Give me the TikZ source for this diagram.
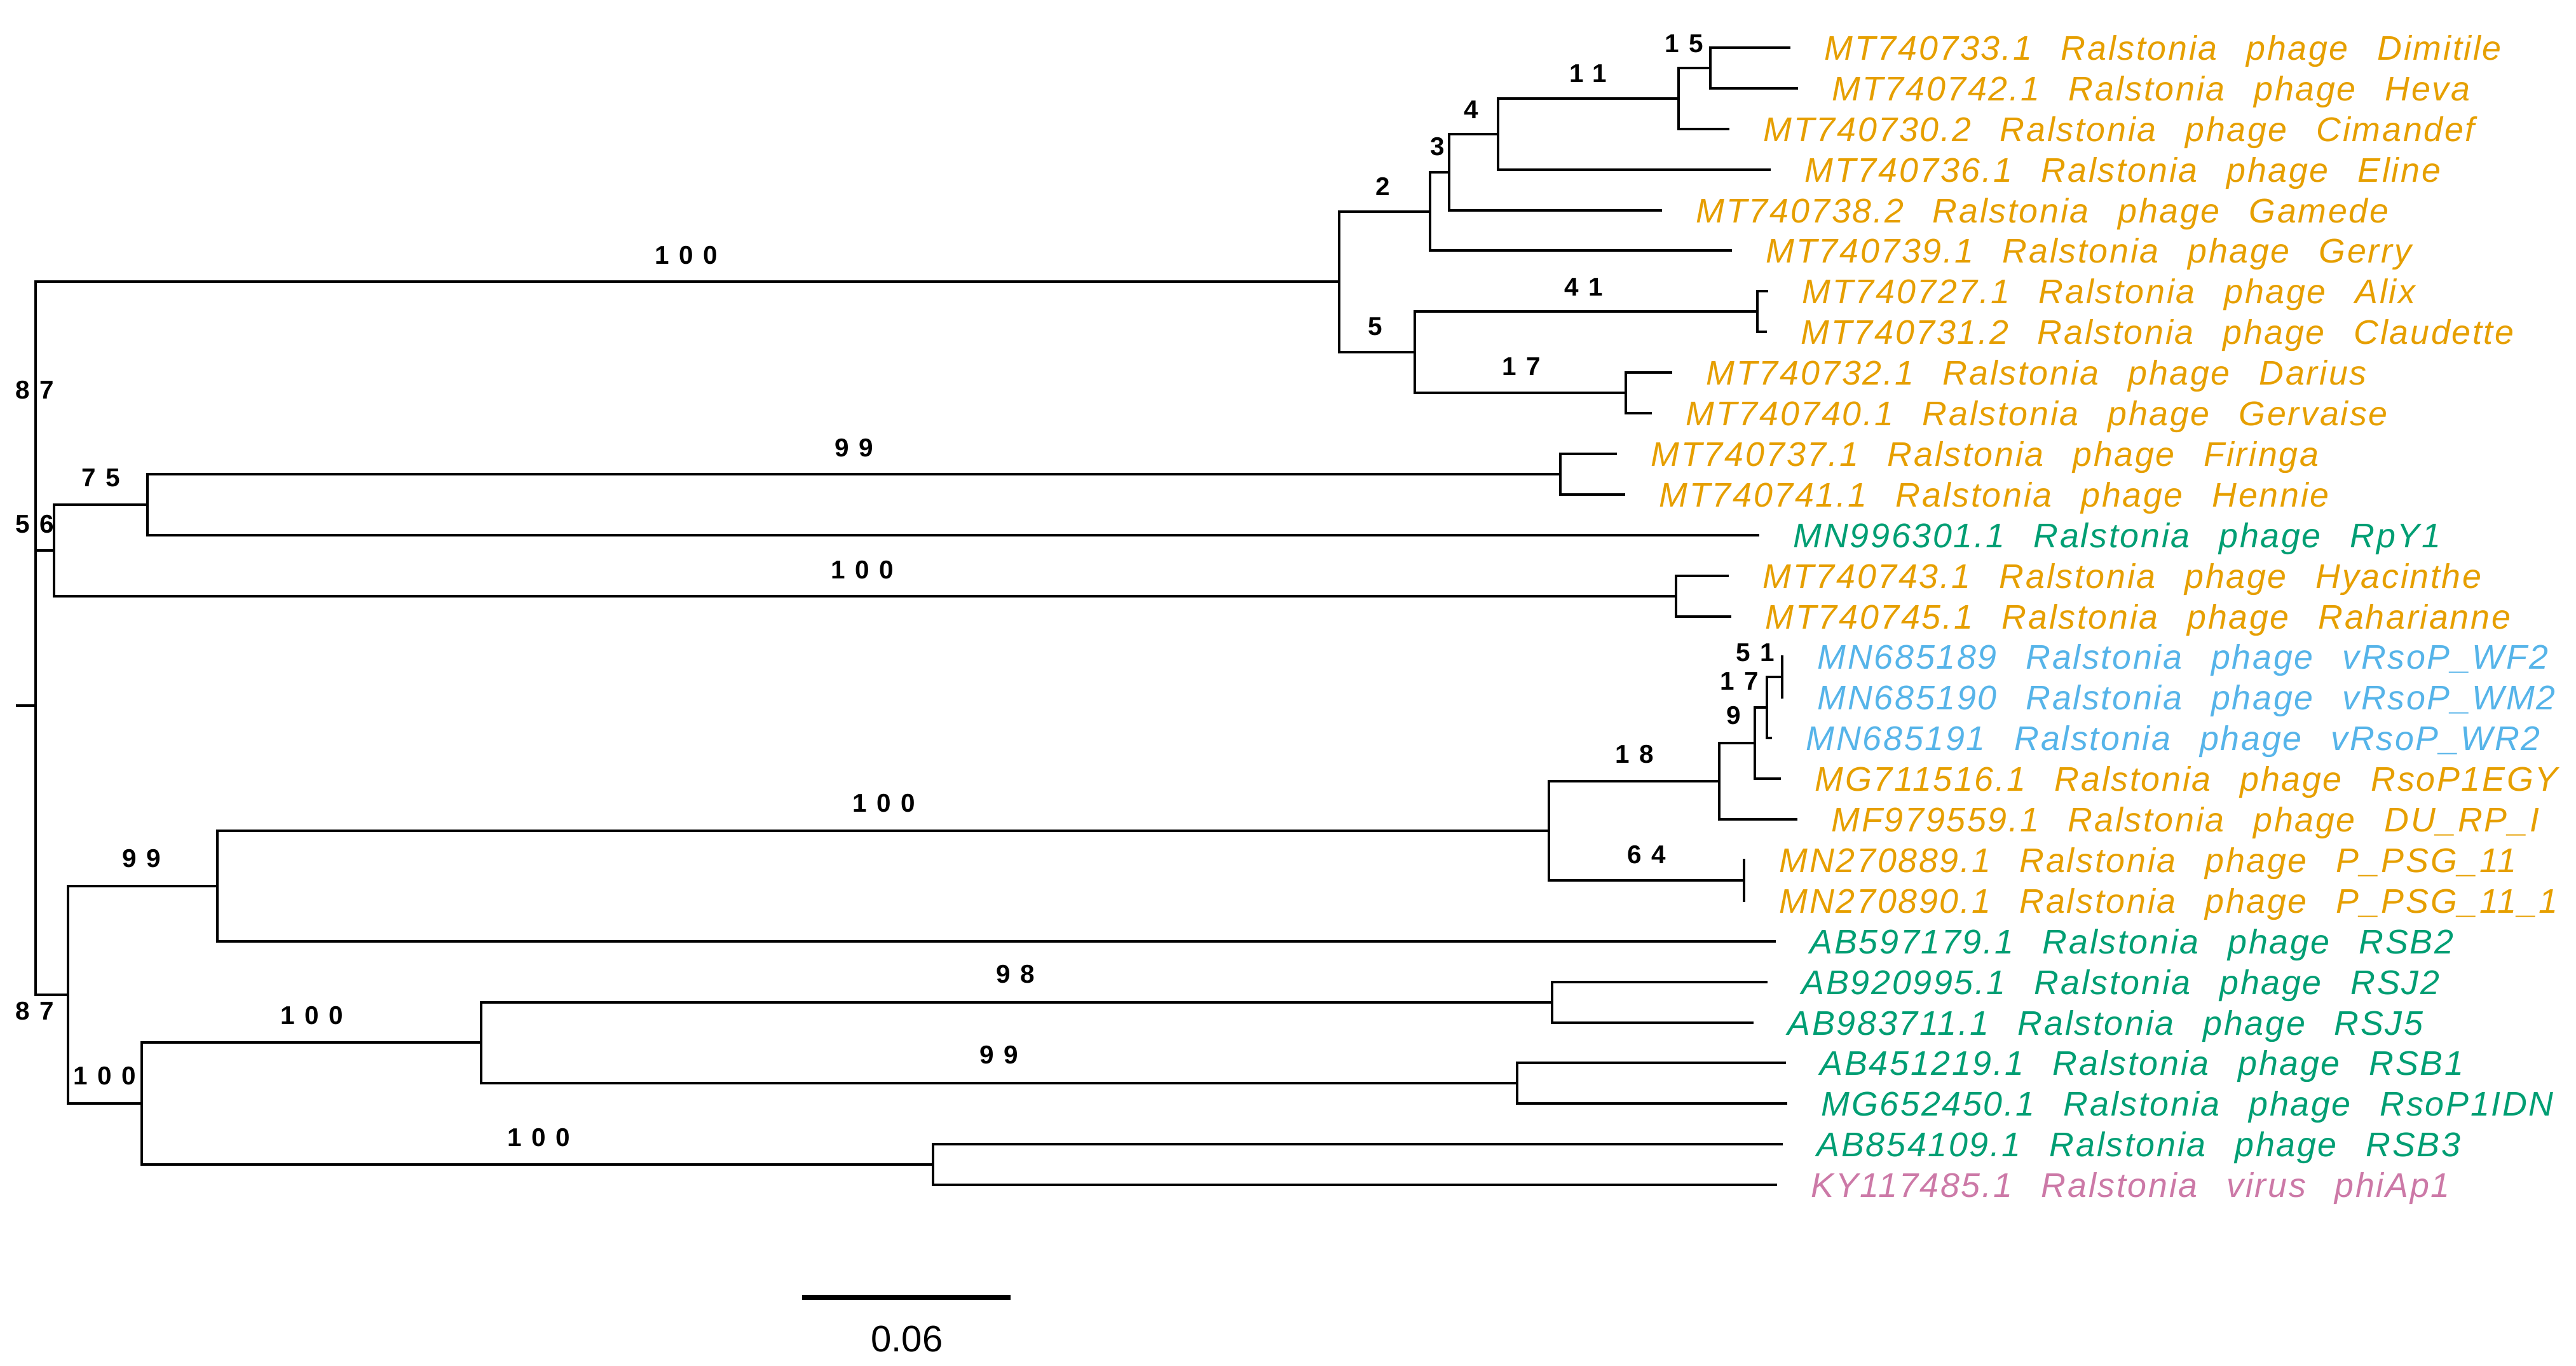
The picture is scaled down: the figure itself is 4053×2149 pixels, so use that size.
\documentclass[tikz,border=0pt]{standalone}
\usepackage{fontspec}
\setmainfont{Liberation Sans}
\newfontfamily\tipfont[LetterSpace=5,WordSpace=2.6]{Liberation Sans}
\newfontfamily\bootfont[LetterSpace=38]{Liberation Sans}
\usetikzlibrary{positioning}

\definecolor{phorange}{HTML}{E69F00}
\definecolor{phgreen}{HTML}{009E73}
\definecolor{phblue}{HTML}{56B4E9}
\definecolor{phpink}{HTML}{CC79A7}

\begin{document}
\begin{tikzpicture}[x=0.01cm, y=-0.01cm,
    branch/.style={line width=1.4pt, line cap=rect},
    tiplabel/.style={anchor=base west, inner sep=0pt, xshift=0.55cm, yshift=-0.19cm, font=\tipfont\itshape\fontsize{15.3}{18}\selectfont},
    boot/.style={inner sep=0pt, font=\bootfont\bfseries\fontsize{11.5}{13}\selectfont}]
\useasboundingbox (0,0) rectangle (4053,2149);

\coordinate (tDimitile) at (2815,75);
\coordinate (tHeva) at (2827,139);
\coordinate (tCimandef) at (2719,203);
\coordinate (tEline) at (2784,267);
\coordinate (tGamede) at (2613,331);
\coordinate (tGerry) at (2723,394);
\coordinate (tAlix) at (2780,458);
\coordinate (tClaudette) at (2778,522);
\coordinate (tDarius) at (2629,586);
\coordinate (tGervaise) at (2597,650);
\coordinate (tFiringa) at (2542,714);
\coordinate (tHennie) at (2555,778);
\coordinate (tRpY) at (2766,842);
\coordinate (tHyacinthe) at (2718,906);
\coordinate (tRaharianne) at (2722,970);
\coordinate (tWF) at (2804,1033);
\coordinate (tWM) at (2804,1097);
\coordinate (tWR) at (2786,1161);
\coordinate (tEGY) at (2800,1225);
\coordinate (tDURP) at (2826,1289);
\coordinate (tPSGa) at (2744,1353);
\coordinate (tPSGb) at (2744,1417);
\coordinate (tRSBb) at (2792,1481);
\coordinate (tRSJb) at (2779,1545);
\coordinate (tRSJe) at (2757,1609);
\coordinate (tRSBa) at (2808,1672);
\coordinate (tIDN) at (2810,1736);
\coordinate (tRSBc) at (2803,1800);
\coordinate (tphiAp) at (2794,1864);

\coordinate (nDH) at (2691,107);
\coordinate (nDHC) at (2641,155);
\coordinate (nE) at (2357,211);
\coordinate (nG) at (2280,271);
\coordinate (nGe) at (2250,333);
\coordinate (nAC) at (2765,490);
\coordinate (nDG) at (2558,618);
\coordinate (nADG) at (2226,554);
\coordinate (nTop) at (2107,443);
\coordinate (nFH) at (2455,746);
\coordinate (nFHR) at (232,794);
\coordinate (nHR) at (2637,938);
\coordinate (nMid) at (85,866);
\coordinate (nUp) at (56,654);
\coordinate (nWF) at (2804,1065);
\coordinate (nWR) at (2780,1113);
\coordinate (nEGY) at (2761,1169);
\coordinate (nDU) at (2705,1229);
\coordinate (nPSG) at (2744,1385);
\coordinate (nRso) at (2437,1307);
\coordinate (nRSBb) at (342,1394);
\coordinate (nRSJ) at (2442,1577);
\coordinate (nIDN) at (2387,1704);
\coordinate (nRSJB) at (757,1640);
\coordinate (nphi) at (1468,1832);
\coordinate (nRSB) at (223,1736);
\coordinate (nLow) at (107,1565);
\coordinate (nRoot) at (56,1110);
\coordinate (nStub) at (27,1110);

\draw[branch] (nStub) -- (nRoot);
\draw[branch] (nRoot) |- (nUp);
\draw[branch] (nRoot) |- (nLow);
\draw[branch] (nUp) |- (nTop);
\draw[branch] (nUp) |- (nMid);
\draw[branch] (nTop) |- (nGe);
\draw[branch] (nTop) |- (nADG);
\draw[branch] (nGe) |- (nG);
\draw[branch] (nGe) |- (tGerry);
\draw[branch] (nG) |- (nE);
\draw[branch] (nG) |- (tGamede);
\draw[branch] (nE) |- (nDHC);
\draw[branch] (nE) |- (tEline);
\draw[branch] (nDHC) |- (nDH);
\draw[branch] (nDHC) |- (tCimandef);
\draw[branch] (nDH) |- (tDimitile);
\draw[branch] (nDH) |- (tHeva);
\draw[branch] (nADG) |- (nAC);
\draw[branch] (nADG) |- (nDG);
\draw[branch] (nAC) |- (tAlix);
\draw[branch] (nAC) |- (tClaudette);
\draw[branch] (nDG) |- (tDarius);
\draw[branch] (nDG) |- (tGervaise);
\draw[branch] (nMid) |- (nFHR);
\draw[branch] (nMid) |- (nHR);
\draw[branch] (nFHR) |- (nFH);
\draw[branch] (nFHR) |- (tRpY);
\draw[branch] (nFH) |- (tFiringa);
\draw[branch] (nFH) |- (tHennie);
\draw[branch] (nHR) |- (tHyacinthe);
\draw[branch] (nHR) |- (tRaharianne);
\draw[branch] (nLow) |- (nRSBb);
\draw[branch] (nLow) |- (nRSB);
\draw[branch] (nRSBb) |- (nRso);
\draw[branch] (nRSBb) |- (tRSBb);
\draw[branch] (nRso) |- (nDU);
\draw[branch] (nRso) |- (nPSG);
\draw[branch] (nDU) |- (nEGY);
\draw[branch] (nDU) |- (tDURP);
\draw[branch] (nEGY) |- (nWR);
\draw[branch] (nEGY) |- (tEGY);
\draw[branch] (nWR) |- (nWF);
\draw[branch] (nWR) |- (tWR);
\draw[branch] (nWF) |- (tWF);
\draw[branch] (nWF) |- (tWM);
\draw[branch] (nPSG) |- (tPSGa);
\draw[branch] (nPSG) |- (tPSGb);
\draw[branch] (nRSB) |- (nRSJB);
\draw[branch] (nRSB) |- (nphi);
\draw[branch] (nRSJB) |- (nRSJ);
\draw[branch] (nRSJB) |- (nIDN);
\draw[branch] (nRSJ) |- (tRSJb);
\draw[branch] (nRSJ) |- (tRSJe);
\draw[branch] (nIDN) |- (tRSBa);
\draw[branch] (nIDN) |- (tIDN);
\draw[branch] (nphi) |- (tRSBc);
\draw[branch] (nphi) |- (tphiAp);

\node[tiplabel, text=phorange] (lDimitile) at (tDimitile) {MT740733.1 Ralstonia phage Dimitile};
\node[tiplabel, text=phorange] (lHeva) at (tHeva) {MT740742.1 Ralstonia phage Heva};
\node[tiplabel, text=phorange] (lCimandef) at (tCimandef) {MT740730.2 Ralstonia phage Cimandef};
\node[tiplabel, text=phorange] (lEline) at (tEline) {MT740736.1 Ralstonia phage Eline};
\node[tiplabel, text=phorange] (lGamede) at (tGamede) {MT740738.2 Ralstonia phage Gamede};
\node[tiplabel, text=phorange] (lGerry) at (tGerry) {MT740739.1 Ralstonia phage Gerry};
\node[tiplabel, text=phorange] (lAlix) at (tAlix) {MT740727.1 Ralstonia phage Alix};
\node[tiplabel, text=phorange] (lClaudette) at (tClaudette) {MT740731.2 Ralstonia phage Claudette};
\node[tiplabel, text=phorange] (lDarius) at (tDarius) {MT740732.1 Ralstonia phage Darius};
\node[tiplabel, text=phorange] (lGervaise) at (tGervaise) {MT740740.1 Ralstonia phage Gervaise};
\node[tiplabel, text=phorange] (lFiringa) at (tFiringa) {MT740737.1 Ralstonia phage Firinga};
\node[tiplabel, text=phorange] (lHennie) at (tHennie) {MT740741.1 Ralstonia phage Hennie};
\node[tiplabel, text=phgreen] (lRpY) at (tRpY) {MN996301.1 Ralstonia phage RpY1};
\node[tiplabel, text=phorange] (lHyacinthe) at (tHyacinthe) {MT740743.1 Ralstonia phage Hyacinthe};
\node[tiplabel, text=phorange] (lRaharianne) at (tRaharianne) {MT740745.1 Ralstonia phage Raharianne};
\node[tiplabel, text=phblue] (lWF) at (tWF) {MN685189 Ralstonia phage vRsoP\_WF2};
\node[tiplabel, text=phblue] (lWM) at (tWM) {MN685190 Ralstonia phage vRsoP\_WM2};
\node[tiplabel, text=phblue] (lWR) at (tWR) {MN685191 Ralstonia phage vRsoP\_WR2};
\node[tiplabel, text=phorange] (lEGY) at (tEGY) {MG711516.1 Ralstonia phage RsoP1EGY};
\node[tiplabel, text=phorange] (lDURP) at (tDURP) {MF979559.1 Ralstonia phage DU\_RP\_I};
\node[tiplabel, text=phorange] (lPSGa) at (tPSGa) {MN270889.1 Ralstonia phage P\_PSG\_11};
\node[tiplabel, text=phorange] (lPSGb) at (tPSGb) {MN270890.1 Ralstonia phage P\_PSG\_11\_1};
\node[tiplabel, text=phgreen] (lRSBb) at (tRSBb) {AB597179.1 Ralstonia phage RSB2};
\node[tiplabel, text=phgreen] (lRSJb) at (tRSJb) {AB920995.1 Ralstonia phage RSJ2};
\node[tiplabel, text=phgreen] (lRSJe) at (tRSJe) {AB983711.1 Ralstonia phage RSJ5};
\node[tiplabel, text=phgreen] (lRSBa) at (tRSBa) {AB451219.1 Ralstonia phage RSB1};
\node[tiplabel, text=phgreen] (lIDN) at (tIDN) {MG652450.1 Ralstonia phage RsoP1IDN};
\node[tiplabel, text=phgreen] (lRSBc) at (tRSBc) {AB854109.1 Ralstonia phage RSB3};
\node[tiplabel, text=phpink] (lphiAp) at (tphiAp) {KY117485.1 Ralstonia virus phiAp1};

\node[boot] (b1) at (1080,402) {100};
\node[boot] (b2) at (55,614) {87};
\node[boot] (b3) at (55,825) {56};
\node[boot] (b4) at (159,752) {75};
\node[boot] (b5) at (1344,705) {99};
\node[boot] (b6) at (1357,897) {100};
\node[boot] (b7) at (1391,1264) {100};
\node[boot] (b8) at (223,1351) {99};
\node[boot] (b9) at (55,1591) {87};
\node[boot] (b10) at (165,1693) {100};
\node[boot] (b11) at (491,1598) {100};
\node[boot] (b12) at (1598,1533) {98};
\node[boot] (b13) at (1572,1660) {99};
\node[boot] (b14) at (848,1790) {100};
\node[boot] (b15) at (2176,293) {2};
\node[boot] (b16) at (2262,231) {3};
\node[boot] (b17) at (2315,173) {4};
\node[boot] (b18) at (2499,116) {11};
\node[boot] (b19) at (2650,69) {15};
\node[boot] (b20) at (2492,452) {41};
\node[boot] (b21) at (2164,514) {5};
\node[boot] (b22) at (2394,577) {17};
\node[boot] (b23) at (2572,1187) {18};
\node[boot] (b24) at (2728,1126) {9};
\node[boot] (b25) at (2737,1072) {17};
\node[boot] (b26) at (2762,1027) {51};
\node[boot] (b27) at (2591,1345) {64};

\coordinate (sbA) at (1262,2041);
\coordinate (sbB) at (1590,2041);
\draw[line width=2pt] (sbA) -- (sbB);
\node[inner sep=0pt, font=\fontsize{16.5}{19}\selectfont] (sbLabel) at (1427,2107) {0.06};

\end{tikzpicture}
\end{document}
